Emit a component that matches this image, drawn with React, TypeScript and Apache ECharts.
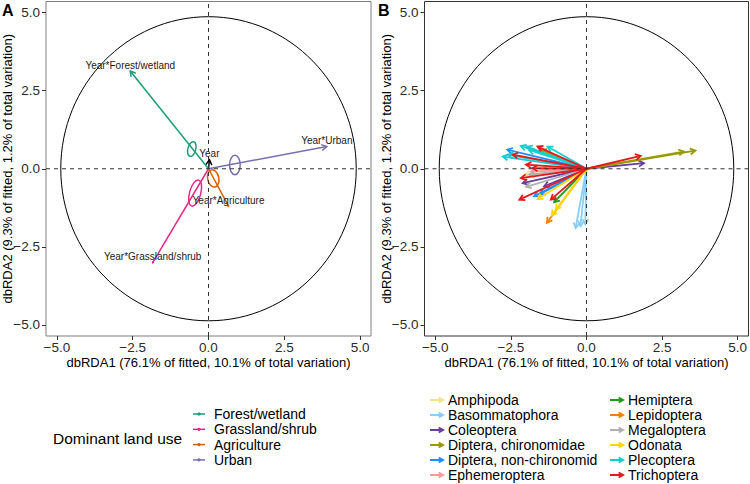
import React, { useEffect, useRef } from "react";
import * as echarts from "echarts";

// ---------- data ----------
const AXIS_LIMIT = 5.357;
const TICK_VALUES = [-5, -2.5, 0, 2.5, 5];
const CIRCLE_R = 4.87;

const X_TITLE = "dbRDA1 (76.1% of fitted, 10.1% of total variation)";
const Y_TITLE = "dbRDA2 (9.3% of fitted, 1.2% of total variation)";

// Panel A
const landUse = ["Forest/wetland", "Grassland/shrub", "Agriculture", "Urban"];
const landColors = ["#1b9e77", "#e7298a", "#d95f02", "#7570b3"];

const termNames = ["Year", "Year*Forest/wetland", "Year*Grassland/shrub", "Year*Agriculture", "Year*Urban"];
const termX = [0.03, -2.58, -1.84, 0.66, 3.9];
const termY = [0.29, 3.13, -3.01, -1.2, 0.71];

const ellipseCx = [-0.55, -0.44, 0.155, 0.87];
const ellipseCy = [0.63, -0.78, -0.31, 0.12];
const ellipseRx = [0.13, 0.185, 0.185, 0.175];
const ellipseRy = [0.24, 0.43, 0.28, 0.315];
const ellipseAngle = [-15, -15, 12, 0];

// Panel B
const taxa = [
  "Amphipoda", "Basommatophora", "Coleoptera", "Diptera, chironomidae",
  "Diptera, non-chironomid", "Ephemeroptera", "Hemiptera", "Lepidoptera",
  "Megaloptera", "Odonata", "Plecoptera", "Trichoptera",
];
const taxaColors = [
  "#eee685", "#87cefa", "#6a3d9a", "#999900", "#1e90ff", "#fb9a99",
  "#1b9e1b", "#ff7f00", "#b0b0b0", "#ffd700", "#17cdd1", "#e41a1c",
];
const speciesTaxon = [
  0,
  1, 1, 1,
  2, 2, 2,
  3, 3, 3,
  4, 4, 4,
  5, 5,
  6,
  7,
  8, 8,
  9, 9, 9,
  10, 10, 10, 10, 10, 10,
  11, 11, 11, 11, 11, 11, 11, 11,
];
const speciesX = [
  -2.06,
  -0.36, -0.2, -0.04,
  1.9, -2.11, -1.4,
  3.6, 3.22, -1.5,
  -2.62, -1.73, -1.55,
  -1.84, -1.5,
  -1.07,
  -1.31,
  -1.9, -2.0,
  -1.62, -1.01, -1.15,
  -2.77, -2.17, -1.97, -1.29, -1.9, -2.6,
  1.79, -1.62, -2.44, -2.0, -1.79, -2.17, -2.22, -1.18,
];
const speciesY = [
  -0.2,
  -1.9, -1.84, -1.78,
  0.18, -0.46, -0.56,
  0.58, 0.55, 0.6,
  0.61, -0.88, -0.82,
  -0.09, -0.03,
  -1.07,
  -1.73,
  -0.19, -0.58,
  -0.97, -1.31, -1.5,
  0.39, 0.73, 0.71, 0.71, 0.6, 0.45,
  0.41, 0.71, 0.45, 0.13, 0.02, -0.3, -0.99, -0.99,
];

// ---------- helpers ----------
const FONT = '"Liberation Sans", Arial, Helvetica, sans-serif';
const fmt = (v: number) => v.toFixed(1).replace("-", "\u2212");

function headPoints(o: number[], t: number[], len: number) {
  const a = Math.atan2(t[1] - o[1], t[0] - o[0]);
  const phi = Math.PI / 6;
  return [
    [t[0] + len * Math.cos(a + Math.PI - phi), t[1] + len * Math.sin(a + Math.PI - phi)],
    [t[0], t[1]],
    [t[0] + len * Math.cos(a + Math.PI + phi), t[1] + len * Math.sin(a + Math.PI + phi)],
  ];
}

function makeAxes(idx: number) {
  const common = {
    type: "value",
    min: -AXIS_LIMIT,
    max: AXIS_LIMIT,
    gridIndex: idx,
    splitLine: { show: false },
    axisLine: { show: false, onZero: false },
    axisTick: { show: true, length: 4, customValues: TICK_VALUES, lineStyle: { color: "#333", width: 1 } },
    axisLabel: {
      customValues: TICK_VALUES,
      formatter: (v: number) => fmt(v),
      color: "#2b2b2b",
      fontSize: 13.5,
      fontFamily: FONT,
    },
    nameLocation: "middle",
    nameMoveOverlap: false,
    nameTextStyle: { color: "#000", fontSize: 13, fontFamily: FONT },
  };
  const x = { ...common, name: X_TITLE, nameGap: 20, axisLabel: { ...common.axisLabel, margin: 4 } };
  const y = { ...common, name: Y_TITLE, nameGap: 32, nameRotate: 90, axisLabel: { ...common.axisLabel, margin: 6 } };
  return { x, y };
}

function baseSeries(idx: number) {
  const dash = {
    type: "line",
    xAxisIndex: idx,
    yAxisIndex: idx,
    symbol: "none",
    silent: true,
    lineStyle: { color: "#333", width: 1, type: [4, 4] },
  };
  return [
    {
      type: "custom",
      xAxisIndex: idx,
      yAxisIndex: idx,
      silent: true,
      data: [[0, 0]],
      renderItem: (_p: any, api: any) => {
        const c = api.coord([0, 0]);
        const s = api.size([CIRCLE_R, CIRCLE_R]);
        return {
          type: "ellipse",
          shape: { cx: c[0], cy: c[1], rx: s[0], ry: s[1] },
          style: { fill: "none", stroke: "#000", lineWidth: 1 },
        };
      },
    },
    { ...dash, data: [[0, -AXIS_LIMIT], [0, AXIS_LIMIT]] },
    { ...dash, data: [[-AXIS_LIMIT, 0], [AXIS_LIMIT, 0]] },
  ];
}

export default function App() {
  const ref = useRef<HTMLDivElement>(null);
  useEffect(() => {
    if (!ref.current) return;
    const chart = echarts.init(ref.current, null, { renderer: "svg" });
    const axA = makeAxes(0);
    const axB = makeAxes(1);

    const termColors = ["#000000", ...landColors];
    const smallHead = new Set(["Year*Grassland/shrub", "Year*Agriculture"]);

    const legendA: any[] = [
      {
        type: "text",
        x: 53,
        y: 438,
        style: { text: "Dominant land use", fill: "#000", fontSize: 15.5, fontFamily: FONT, verticalAlign: "middle" },
      },
    ];
    landUse.forEach((name, i) => {
      const y = 414 + i * 15.3;
      legendA.push({ type: "line", shape: { x1: 193, y1: y, x2: 205, y2: y }, style: { stroke: landColors[i], lineWidth: 1.5 } });
      legendA.push({ type: "circle", shape: { cx: 199, cy: y, r: 1.6 }, style: { fill: landColors[i] } });
      legendA.push({
        type: "text",
        x: 214,
        y,
        style: { text: name, fill: "#000", fontSize: 14, fontFamily: FONT, verticalAlign: "middle" },
      });
    });

    const legendB: any[] = [];
    taxa.forEach((name, i) => {
      const col = Math.floor(i / 6);
      const row = i % 6;
      const y = 400 + row * 15;
      const x0 = col === 0 ? 430 : 610;
      const x1 = x0 + 13;
      legendB.push({ type: "line", shape: { x1: x0, y1: y, x2: x1, y2: y }, style: { stroke: taxaColors[i], lineWidth: 2 } });
      legendB.push({
        type: "polyline",
        shape: { points: headPoints([x0, y], [x1, y], 5) },
        style: { stroke: taxaColors[i], lineWidth: 2, fill: "none" },
      });
      legendB.push({
        type: "text",
        x: x1 + 5,
        y,
        style: { text: name, fill: "#000", fontSize: 14, fontFamily: FONT, verticalAlign: "middle" },
      });
    });

    const gridCommon = { show: true, borderWidth: 1, backgroundColor: "transparent", containLabel: false, outerBoundsMode: "none" };
    const option: any = {
      animation: false,
      backgroundColor: "#fff",
      grid: [
        { ...gridCommon, left: 46, top: 1.5, width: 325, height: 334.5, borderColor: "#7f7f7f" },
        { ...gridCommon, left: 424.5, top: 1.5, width: 324, height: 334.5, borderColor: "#333" },
      ],
      xAxis: [axA.x, axB.x],
      yAxis: [axA.y, axB.y],
      series: [
        ...baseSeries(0),
        // confidence ellipses (panel A)
        {
          type: "custom",
          xAxisIndex: 0,
          yAxisIndex: 0,
          silent: true,
          data: landUse.map((_, i) => [ellipseCx[i], ellipseCy[i], ellipseRx[i], ellipseRy[i], ellipseAngle[i]]),
          renderItem: (p: any, api: any) => {
            const c = api.coord([api.value(0), api.value(1)]);
            const s = api.size([api.value(2), api.value(3)]);
            return {
              type: "ellipse",
              x: c[0],
              y: c[1],
              rotation: (api.value(4) * Math.PI) / 180,
              shape: { cx: 0, cy: 0, rx: s[0], ry: s[1] },
              style: { fill: "none", stroke: landColors[p.dataIndex], lineWidth: 1.5 },
            };
          },
        },
        // term arrows (panel A)
        {
          type: "custom",
          xAxisIndex: 0,
          yAxisIndex: 0,
          silent: true,
          data: termNames.map((_, i) => [termX[i], termY[i]]),
          renderItem: (p: any, api: any) => {
            const i = p.dataIndex;
            const o = api.coord([0, 0]);
            const t = api.coord([api.value(0), api.value(1)]);
            const color = termColors[i];
            const len = smallHead.has(termNames[i]) ? 1.5 : 6;
            return {
              type: "group",
              children: [
                { type: "line", shape: { x1: o[0], y1: o[1], x2: t[0], y2: t[1] }, style: { stroke: color, lineWidth: 1.5 } },
                { type: "polyline", shape: { points: headPoints(o, t, len) }, style: { stroke: color, lineWidth: 1.5, fill: "none" } },
                {
                  type: "text",
                  x: t[0],
                  y: t[1] - 1,
                  style: { text: termNames[i], fill: "#1a1a1a", fontSize: 10, fontFamily: FONT, align: "center", verticalAlign: "bottom" },
                },
              ],
            };
          },
        },
        ...baseSeries(1),
        // species arrows (panel B)
        {
          type: "custom",
          xAxisIndex: 1,
          yAxisIndex: 1,
          silent: true,
          data: speciesX.map((x, i) => [x, speciesY[i], speciesTaxon[i]]),
          renderItem: (_p: any, api: any) => {
            const o = api.coord([0, 0]);
            const t = api.coord([api.value(0), api.value(1)]);
            const color = taxaColors[api.value(2)];
            return {
              type: "group",
              children: [
                { type: "line", shape: { x1: o[0], y1: o[1], x2: t[0], y2: t[1] }, style: { stroke: color, lineWidth: 1.8 } },
                { type: "polyline", shape: { points: headPoints(o, t, 6) }, style: { stroke: color, lineWidth: 1.8, fill: "none" } },
              ],
            };
          },
        },
      ],
      graphic: [
        { type: "text", x: 2, y: 2, style: { text: "A", fill: "#000", fontSize: 16, fontWeight: "bold", fontFamily: FONT } },
        { type: "text", x: 378, y: 2, style: { text: "B", fill: "#000", fontSize: 16, fontWeight: "bold", fontFamily: FONT } },
        ...legendA,
        ...legendB,
      ],
    };
    chart.setOption(option);
    return () => chart.dispose();
  }, []);
  return <div ref={ref} style={{ position: "fixed", left: 0, top: 0, width: 750, height: 484 }} />;
}
